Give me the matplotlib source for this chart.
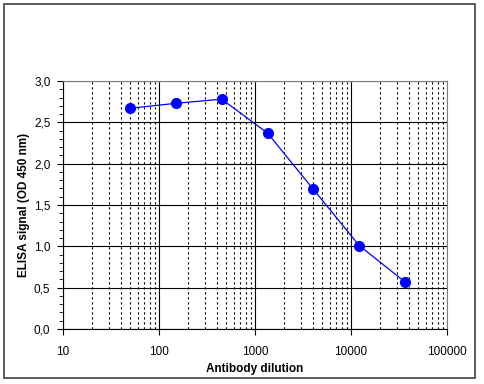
import matplotlib
matplotlib.use("Agg")
import matplotlib.pyplot as plt
from matplotlib.ticker import LogLocator, FixedLocator, MultipleLocator, FuncFormatter, NullFormatter
from matplotlib.patches import Rectangle

dilution = [50, 150, 450, 1350, 4050, 12150, 36450]
signal = [2.67, 2.73, 2.78, 2.37, 1.69, 1.01, 0.57]
x_ticks = [10, 100, 1000, 10000, 100000]
x_labels = ["10", "100", "1000", "10000", "100000"]
y_ticks = [0.0, 0.5, 1.0, 1.5, 2.0, 2.5, 3.0]

plt.rcParams['font.family'] = ['Liberation Sans', 'DejaVu Sans']
fig = plt.figure(figsize=(4.85, 3.84), dpi=100)
fig.patch.set_facecolor('white')
fig.patches.append(Rectangle((4/485, 6/384), 471/485, 374/384, transform=fig.transFigure,
                             fill=False, edgecolor='#404040', linewidth=1.2))
ax = fig.add_axes([63/485, 1-329/384, 384/485, 248/384])
ax.set_xscale('log')
ax.set_xlim(10, 100000)
ax.set_ylim(0, 3.0)

ax.xaxis.set_major_locator(FixedLocator(x_ticks))
ax.set_xticklabels(x_labels)
ax.xaxis.set_minor_locator(LogLocator(base=10, subs=range(2, 10)))
ax.xaxis.set_minor_formatter(NullFormatter())
ax.yaxis.set_major_locator(FixedLocator(y_ticks))
ax.yaxis.set_major_formatter(FuncFormatter(lambda v, p: f"{v:.1f}".replace('.', ',')))
ax.yaxis.set_minor_locator(MultipleLocator(0.1))

ax.grid(which='major', axis='both', color='black', linestyle='-', linewidth=0.8)
ax.grid(which='minor', axis='x', color='black', linestyle=(0, (2, 2.5)), linewidth=0.8)
ax.set_axisbelow(True)

ax.plot(dilution, signal, color='#0000ff', linewidth=0.9, marker='o', markersize=7,
        markerfacecolor='#0000ff', markeredgecolor='#0000ff', zorder=5, clip_on=False)

for s in ['top', 'right']:
    ax.spines[s].set_color('#808080')
for s in ['left', 'bottom']:
    ax.spines[s].set_color('black')
ax.tick_params(axis='both', which='major', direction='out', length=4, labelsize=8.5, color='black', pad=5)
ax.tick_params(axis='y', which='minor', direction='out', length=3, color='black')
ax.tick_params(axis='x', which='minor', length=0)
ax.tick_params(axis='x', which='major', length=4, pad=8)

ax.set_xlabel('Antibody dilution', fontsize=8.5, fontweight='bold', labelpad=4)
ax.set_ylabel('ELISA signal (OD 450 nm)', fontsize=8.5, fontweight='bold', labelpad=3)

fig.savefig('out.png', dpi=100)
